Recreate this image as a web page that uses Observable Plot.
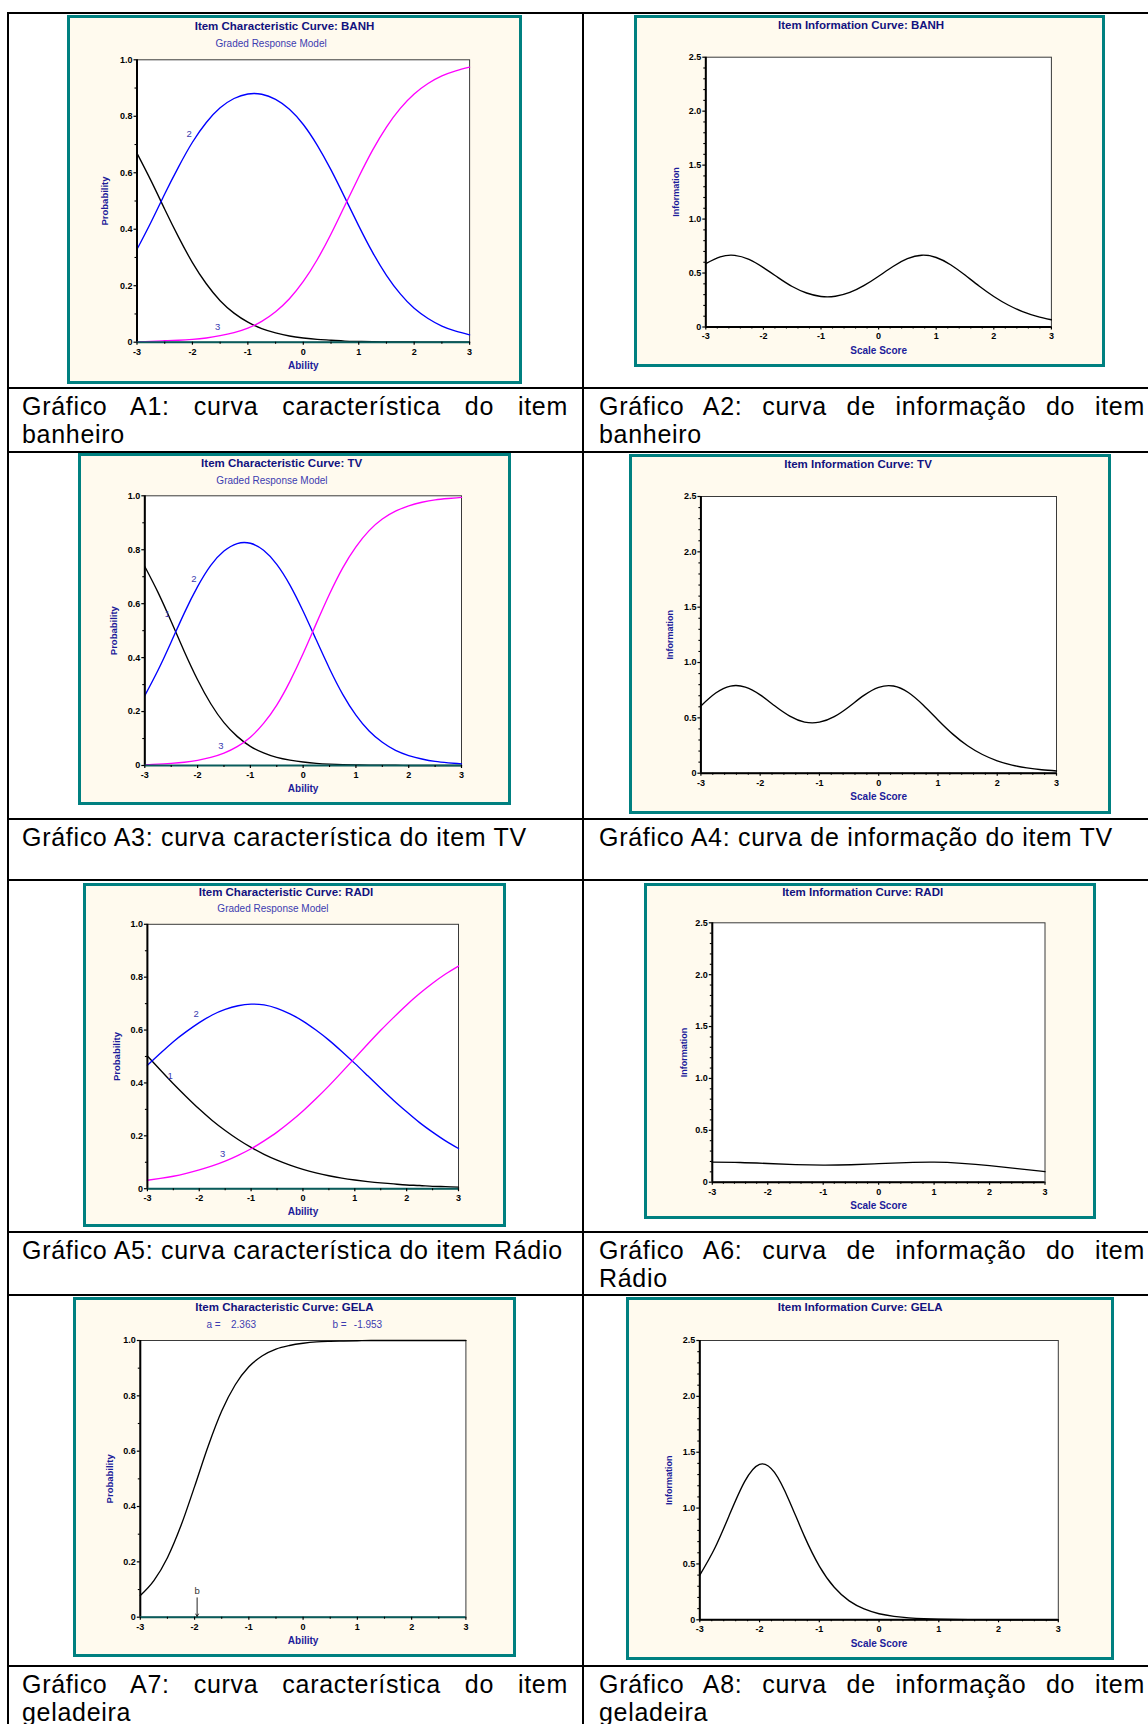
<!DOCTYPE html>
<html><head><meta charset="utf-8">
<script src="https://cdn.jsdelivr.net/npm/d3@7"></script>
<script src="https://cdn.jsdelivr.net/npm/@observablehq/plot@0.6"></script>
<style>
html,body{margin:0;padding:0;background:#fff;}
body{width:1148px;height:1724px;position:relative;overflow:hidden;font-family:"Liberation Sans",Arial,Helvetica,sans-serif;}
.hl{position:absolute;left:7px;right:0;height:2px;background:#000;}
.vl{position:absolute;top:12px;bottom:0;width:2px;background:#000;}
.cap{position:absolute;width:546px;font-size:25px;line-height:28px;letter-spacing:0.7px;text-align:justify;color:#000;}
.frame{position:absolute;box-sizing:border-box;border:3px solid #008080;background:#fffaee;}
.frame svg{position:absolute;left:0;top:0;}
</style></head><body>
<script>
// ---------------- DATA ----------------
const thetaQ = [-3,-2.75,-2.5,-2.25,-2,-1.75,-1.5,-1.25,-1,-0.75,-0.5,-0.25,0,0.25,0.5,0.75,1,1.25,1.5,1.75,2,2.25,2.5,2.75,3];
const thetaH = [-3,-2.5,-2,-1.5,-1,-0.5,0,0.5,1,1.5,2,2.5,3];

const banhCat1 = [0.669,0.573,0.471,0.372,0.282,0.207,0.147,0.103,0.071,0.048,0.033,0.022,0.015,0.010,0.007,0.004,0.003,0.002,0.001,0.001,0.001,0,0,0,0];
const banhCat2 = [0.329,0.424,0.525,0.621,0.708,0.778,0.830,0.863,0.879,0.878,0.860,0.825,0.771,0.698,0.610,0.512,0.412,0.318,0.237,0.171,0.120,0.084,0.057,0.039,0.026];
const banhCat3 = [0.002,0.003,0.005,0.007,0.010,0.015,0.023,0.034,0.050,0.074,0.108,0.154,0.215,0.292,0.383,0.484,0.585,0.680,0.762,0.828,0.879,0.916,0.943,0.961,0.974];
const banhInfo = [0.587,0.650,0.664,0.626,0.550,0.460,0.375,0.315,0.283,0.285,0.320,0.385,0.470,0.561,0.633,0.665,0.644,0.577,0.481,0.378,0.283,0.204,0.143,0.099,0.067];

const tvCat1 = [0.738,0.642,0.534,0.422,0.318,0.229,0.159,0.108,0.071,0.047,0.030,0.020,0.013,0.008,0.005,0.003,0.002,0.001,0.001,0.001,0,0,0,0,0];
const tvCat2 = [0.259,0.353,0.458,0.566,0.663,0.742,0.795,0.823,0.824,0.798,0.746,0.669,0.572,0.465,0.359,0.264,0.187,0.128,0.086,0.056,0.037,0.024,0.015,0.010,0.006];
const tvCat3 = [0.003,0.005,0.008,0.012,0.019,0.030,0.046,0.070,0.105,0.156,0.224,0.312,0.415,0.527,0.636,0.733,0.811,0.871,0.914,0.943,0.963,0.976,0.985,0.990,0.994];
const tvInfo = [0.608,0.724,0.787,0.778,0.708,0.607,0.516,0.462,0.461,0.511,0.601,0.703,0.776,0.788,0.729,0.616,0.481,0.353,0.248,0.169,0.112,0.073,0.048,0.031,0.020];

const radiCat1 = [0.502,0.449,0.397,0.348,0.301,0.258,0.220,0.186,0.156,0.130,0.108,0.089,0.073,0.060,0.049,0.040,0.033,0.027,0.022,0.018,0.014,0.012,0.009,0.008,0.006];
const radiCat2 = [0.467,0.512,0.556,0.594,0.628,0.657,0.678,0.692,0.698,0.695,0.682,0.661,0.634,0.600,0.562,0.519,0.474,0.427,0.380,0.334,0.291,0.250,0.214,0.181,0.152];
const radiCat3 = [0.032,0.039,0.047,0.058,0.071,0.086,0.104,0.126,0.151,0.181,0.214,0.252,0.294,0.340,0.389,0.441,0.494,0.547,0.599,0.648,0.695,0.738,0.777,0.812,0.842];
const radiInfo = [0.193,0.190,0.180,0.169,0.164,0.168,0.179,0.189,0.193,0.182,0.160,0.131,0.102];

const gelaIcc  = [0.078,0.132,0.215,0.331,0.472,0.618,0.745,0.840,0.905,0.945,0.969,0.982,0.990,0.995,0.997,0.998,0.999,1.000,1.000,1.000,1.000,1.000,1.000,1.000,1.000];
const gelaInfo = [0.400,0.640,0.944,1.237,1.392,1.319,1.062,0.749,0.481,0.291,0.169,0.097,0.054,0.031,0.017,0.009,0.005,0.003,0.002,0.001,0,0,0,0,0];
const gelaParamText = ["a =", "2.363", "b =", "-1.953"];
const gelaB = -1.953;

// curve category labels (text, ability, probability)
const banhLabelText = ["2","3"];      const banhLabelX = [-2.06,-1.545];        const banhLabelY = [0.736,0.053];
const tvLabelText   = ["2","1","3"];  const tvLabelX   = [-2.07,-2.57,-1.56];   const tvLabelY   = [0.690,0.562,0.074];
const radiLabelText = ["2","1","3"];  const radiLabelX = [-2.06,-2.56,-1.55];   const radiLabelY = [0.660,0.426,0.130];

// tick values
const abilityTicks = [-3,-2,-1,0,1,2,3];
const abilityMinorTicks = [-2.5,-1.5,-0.5,0.5,1.5,2.5];
const scoreMinorTicks = [-2.8,-2.6,-2.4,-2.2,-1.8,-1.6,-1.4,-1.2,-0.8,-0.6,-0.4,-0.2,0.2,0.4,0.6,0.8,1.2,1.4,1.6,1.8,2.2,2.4,2.6,2.8];
const probTicks = [0,0.2,0.4,0.6,0.8,1.0];
const probMinorTicks = [0.1,0.3,0.5,0.7,0.9];
const infoTicks = [0,0.5,1.0,1.5,2.0,2.5];
const infoMinorTicks = [0.1,0.2,0.3,0.4,0.6,0.7,0.8,0.9,1.1,1.2,1.3,1.4,1.6,1.7,1.8,1.9,2.1,2.2,2.3,2.4];

const titles = [
  "Item Characteristic Curve: BANH","Item Information Curve: BANH",
  "Item Characteristic Curve: TV","Item Information Curve: TV",
  "Item Characteristic Curve: RADI","Item Information Curve: RADI",
  "Item Characteristic Curve: GELA","Item Information Curve: GELA"
];
const subtitle = "Graded Response Model";
const captions = [
  "Gráfico A1: curva característica do item banheiro",
  "Gráfico A2: curva de informação do item banheiro",
  "Gráfico A3: curva característica do item TV",
  "Gráfico A4: curva de informação do item TV",
  "Gráfico A5: curva característica do item Rádio",
  "Gráfico A6: curva de informação do item Rádio",
  "Gráfico A7: curva característica do item geladeira",
  "Gráfico A8: curva de informação do item geladeira"
];

// ---------------- LAYOUT ----------------
const FONT = '"Liberation Sans", Arial, Helvetica, sans-serif';
const BLUE = "#0000ff", MAG = "#ff00ff";
const NAVY = "#12127e", LABEL = "#1c1c9a", SUB = "#3c3cb0";

const panels = [
  {L:67,T:15,R:522,B:384, x0:136.5,x1:469.1,yTop:59.3,yBot:341.7, type:"icc", title:titles[0], tdx:-18.8,tdy:-30, sub:true, sdx:-32.2,sdy:-13.3, ydx:-31.8,
   series:[[thetaQ,banhCat1,"black"],[thetaQ,banhCat2,BLUE],[thetaQ,banhCat3,MAG]], labels:[banhLabelText,banhLabelX,banhLabelY]},
  {L:634,T:15,R:1105,B:367, x0:705.3,x1:1050.9,yTop:56.7,yBot:326.5, type:"info", title:titles[1], tdx:-17.5,tdy:-28.4, ydx:-29.8,
   series:[[thetaQ,banhInfo,"black"]]},
  {L:78,T:453,R:511,B:805, x0:144.3,x1:461,yTop:495.3,yBot:765, type:"icc", title:titles[2], tdx:-21.5,tdy:-28.6, sub:true, sdx:-31.2,sdy:-12, ydx:-30.7,
   series:[[thetaQ,tvCat1,"black"],[thetaQ,tvCat2,BLUE],[thetaQ,tvCat3,MAG]], labels:[tvLabelText,tvLabelX,tvLabelY]},
  {L:629,T:454,R:1111,B:813.5, x0:700.4,x1:1056,yTop:496,yBot:772.7, type:"info", title:titles[3], tdx:-20.7,tdy:-28.7, ydx:-30.4,
   series:[[thetaQ,tvInfo,"black"]]},
  {L:83,T:882.5,R:506,B:1227, x0:146.9,x1:458,yTop:923.3,yBot:1187.7, type:"icc", title:titles[4], tdx:-17,tdy:-28, sub:true, sdx:-30,sdy:-12, ydx:-30.4,
   series:[[thetaQ,radiCat1,"black"],[thetaQ,radiCat2,BLUE],[thetaQ,radiCat3,MAG]], labels:[radiLabelText,radiLabelX,radiLabelY]},
  {L:643.5,T:883,R:1096,B:1219, x0:711.3,x1:1044,yTop:922.3,yBot:1181.7, type:"info", title:titles[5], tdx:-16,tdy:-27.3, ydx:-28.5,
   series:[[thetaH,radiInfo,"black"]]},
  {L:73,T:1297,R:516,B:1657, x0:139.8,x1:465.4,yTop:1340,yBot:1616.7, type:"icc", title:titles[6], tdx:-18.6,tdy:-30, ydx:-30.7,
   series:[[thetaQ,gelaIcc,"black","monotone-x"]], gela:true},
  {L:626,T:1297,R:1114,B:1660, x0:699.3,x1:1057.8,yTop:1340,yBot:1619.3, type:"info", title:titles[7], tdx:-18.9,tdy:-30, ydx:-31.1,
   series:[[thetaQ,gelaInfo,"black"]]}
];

const fmtY = d => d === 0 ? "0" : d.toFixed(1);

function makePanel(p) {
  const div = document.createElement("div");
  div.className = "frame";
  Object.assign(div.style, {left: p.L + "px", top: p.T + "px", width: (p.R - p.L) + "px", height: (p.B - p.T) + "px"});
  const W = p.R - p.L - 6, H = p.B - p.T - 6;
  const ox = p.L + 3, oy = p.T + 3;
  const isInfo = p.type === "info";
  const marks = [];
  marks.push(Plot.frame({fill: "white", stroke: "#3a3a3a", strokeWidth: 1}));
  for (const [xs, ys, color, curve] of p.series) {
    const data = ys.map((v, i) => ({x: xs[i], y: v}));
    marks.push(Plot.line(data, {x: "x", y: "y", stroke: color, strokeWidth: 1.35, curve: curve || "natural"}));
  }
  marks.push(Plot.ruleX([-3], {stroke: "black", strokeWidth: 2}));
  marks.push(Plot.ruleY([0], {stroke: isInfo ? "black" : "#0a5c5c", strokeWidth: 2}));
  marks.push(Plot.axisY(isInfo ? infoTicks : probTicks, {tickSize: 3, tickPadding: 1.5, tickFormat: fmtY, fontSize: 9, fontWeight: "bold", fontFamily: FONT, label: null, strokeWidth: 1.2}));
  marks.push(Plot.axisY(isInfo ? infoMinorTicks : probMinorTicks, {tickSize: 2, tickFormat: () => "", label: null, strokeWidth: 1.1}));
  marks.push(Plot.axisX(abilityTicks, {tickSize: 3, tickPadding: 3, tickFormat: d => String(d), fontSize: 9, fontWeight: "bold", fontFamily: FONT, label: null, strokeWidth: 1.2}));
  marks.push(Plot.axisX(isInfo ? scoreMinorTicks : abilityMinorTicks, {tickSize: 2, tickFormat: () => "", label: null, strokeWidth: 1.1}));
  // title
  marks.push(Plot.text([p.title], {text: d => d, frameAnchor: "top", textAnchor: "middle", lineAnchor: "bottom", dx: p.tdx, dy: p.tdy,
    fontSize: 11.5, fontWeight: "bold", fill: NAVY, fontFamily: FONT, ariaLabel: "title"}));
  if (p.sub) {
    marks.push(Plot.text([subtitle], {text: d => d, frameAnchor: "top", textAnchor: "middle", lineAnchor: "bottom", dx: p.sdx, dy: p.sdy,
      fontSize: 10, fontWeight: "normal", fill: SUB, fontFamily: FONT}));
  }
  // axis labels
  marks.push(Plot.text([isInfo ? "Scale Score" : "Ability"], {text: d => d, frameAnchor: "bottom", textAnchor: "middle", lineAnchor: "middle", dy: 23.5,
    fontSize: 10, fontWeight: "bold", fill: LABEL, fontFamily: FONT, ariaLabel: "xlabel"}));
  marks.push(Plot.text([isInfo ? "Information" : "Probability"], {text: d => d, frameAnchor: "left", textAnchor: "middle", lineAnchor: "middle", dx: p.ydx, rotate: -90,
    fontSize: isInfo ? 9 : 9.5, fontWeight: "bold", fill: LABEL, fontFamily: FONT}));
  // category labels
  if (p.labels) {
    const [lt, lx, ly] = p.labels;
    marks.push(Plot.text(lt.map((_, i) => i), {x: i => lx[i], y: i => ly[i], text: i => lt[i], fontSize: 9.5, fontWeight: "normal", fill: SUB, fontFamily: FONT}));
  }
  if (p.gela) {
    const pos = [66.2, 90.7, 192.2, 213.5];
    gelaParamText.forEach((t, i) => {
      marks.push(Plot.text([t], {text: d => d, frameAnchor: "top-left", textAnchor: "start", lineAnchor: "bottom", dx: pos[i], dy: -12.7,
        fontSize: 10, fontWeight: "normal", fill: SUB, fontFamily: FONT}));
    });
    marks.push(Plot.arrow([gelaB], {x1: d => d, x2: d => d, y1: 0.07, y2: 0.003, stroke: "#222", strokeWidth: 1, headLength: 4}));
    marks.push(Plot.text([gelaB], {x: d => d, y: 0.096, text: () => "b", fontSize: 9.5, fontWeight: "normal", fill: "#333", fontFamily: FONT}));
  }
  const svg = Plot.plot({
    width: W, height: H,
    marginLeft: p.x0 - ox, marginRight: (ox + W) - p.x1,
    marginTop: p.yTop - oy, marginBottom: (oy + H) - p.yBot,
    x: {domain: [-3, 3]},
    y: {domain: [0, isInfo ? 2.5 : 1]},
    style: {background: "transparent", fontFamily: FONT, fontWeight: "bold", color: "black", overflow: "visible"},
    marks
  });
  svg.querySelectorAll('g[aria-label="title"] text').forEach(t => t.setAttribute("letter-spacing", isInfo ? "-0.7" : "-0.37"));
  div.appendChild(svg);
  document.body.appendChild(div);
}

panels.forEach(makePanel);

// table lines
const hLines = [12, 387, 451, 818, 879, 1231, 1294, 1665];
hLines.forEach(y => { const d = document.createElement("div"); d.className = "hl"; d.style.top = y + "px"; document.body.appendChild(d); });
[7, 582].forEach(x => { const d = document.createElement("div"); d.className = "vl"; d.style.left = x + "px"; document.body.appendChild(d); });

// captions
const capTops = [392.3, 823.3, 1235.7, 1670];
captions.forEach((c, i) => {
  const d = document.createElement("div");
  d.className = "cap";
  d.textContent = c;
  d.style.left = (i % 2 === 0 ? 22 : 599) + "px";
  d.style.top = capTops[Math.floor(i / 2)] + "px";
  document.body.appendChild(d);
});
</script>
</body></html>
